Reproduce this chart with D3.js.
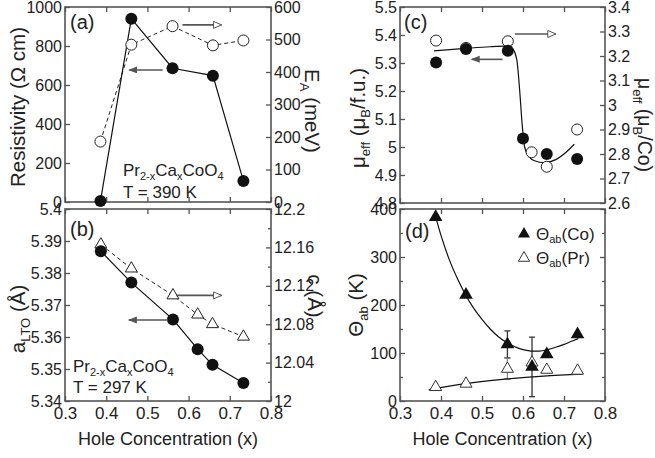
<!DOCTYPE html>
<html>
<head>
<meta charset="utf-8">
<script src="https://cdn.jsdelivr.net/npm/d3@7"></script>
<style>
  body { margin: 0; background: #fff; }
  svg text { font-family: "Liberation Sans", Arial, Helvetica, sans-serif; fill: #222; }
</style>
</head>
<body>
<svg id="chart" width="655" height="458"></svg>
<script>
// hole concentration of the samples
const xFive = [0.386, 0.461, 0.561, 0.659, 0.733];
const xSix = [0.387, 0.461, 0.562, 0.622, 0.658, 0.733];

// (a) resistivity at 390 K and activation energy
const resistivity = [5, 940, 686, 648, 108];
const activationEnergy = [186, 484, 541, 482, 497];

// (b) lattice parameters at 297 K
const aLto = [5.3868, 5.377, 5.3655, 5.3562, 5.3513, 5.3456];
const cAxis = [12.163, 12.138, 12.110, 12.090, 12.080, 12.067];

// (c) effective moment
const xMuFu = [0.388, 0.461, 0.563, 0.600, 0.658, 0.732];
const muPerFu = [5.302, 5.35, 5.344, 5.03, 4.975, 4.957];
const xMuCo = [0.388, 0.461, 0.563, 0.621, 0.658, 0.732];
const muPerCo = [3.263, 3.233, 3.26, 2.807, 2.748, 2.90];
const muFitX = [0.383, 0.46, 0.52, 0.56, 0.575, 0.585, 0.592, 0.598, 0.604, 0.615, 0.63, 0.65, 0.68, 0.70, 0.725];
const muFitY = [5.343, 5.352, 5.358, 5.36, 5.35, 5.31, 5.2, 5.08, 5.0, 4.965, 4.95, 4.944, 4.955, 4.975, 5.01];

// (d) Weiss temperatures
const thetaCo = [383, 221, 118, 71, 97, 139];
const thetaPr = [29, 36, 67, 80, 65, 63];
const thetaCoErr = [0, 0, 28, 62, 0, 0];
const thetaPrErr = [0, 0, 22, 0, 0, 0];
const coFitX = [0.385, 0.40, 0.42, 0.44, 0.46, 0.48, 0.50, 0.52, 0.54, 0.56, 0.58, 0.60, 0.62, 0.64, 0.66, 0.68, 0.70, 0.72, 0.735];
const coFitY = [390, 345, 295, 255, 221, 193, 170, 150, 134, 122, 113, 107, 104, 104, 107, 112, 118, 125, 130];
const prFitX = [0.37, 0.45, 0.55, 0.65, 0.745];
const prFitY = [23, 35, 45, 52, 56];

// tick values
const xTickVals = [0.3, 0.4, 0.5, 0.6, 0.7, 0.8];
const resTicks = [0, 200, 400, 600, 800, 1000];
const eaTicks = [0, 100, 200, 300, 400, 500, 600];
const aTicks = [5.34, 5.35, 5.36, 5.37, 5.38, 5.39, 5.4];
const cTicks = [12, 12.04, 12.08, 12.12, 12.16, 12.2];
const cMinor = [12.02, 12.06, 12.1, 12.14, 12.18];
const muFuTicks = [4.8, 4.9, 5, 5.1, 5.2, 5.3, 5.4, 5.5];
const muCoTicks = [2.6, 2.7, 2.8, 2.9, 3, 3.1, 3.2, 3.3, 3.4];
const thetaTicks = [0, 100, 200, 300, 400];
const thetaMinor = [50, 150, 250, 350];

const svg = d3.select("#chart");
const axisColor = "#555";
const fmt = d3.format("~g");

// arrow heads
const defs = svg.append("defs");
defs.append("marker").attr("id", "headFilled")
  .attr("markerUnits", "userSpaceOnUse").attr("markerWidth", 10).attr("markerHeight", 8)
  .attr("refX", 8).attr("refY", 3.5).attr("orient", "auto")
  .append("path").attr("d", "M0,0 L9,3.5 L0,7 Z").attr("fill", axisColor);
defs.append("marker").attr("id", "headOpen")
  .attr("markerUnits", "userSpaceOnUse").attr("markerWidth", 12).attr("markerHeight", 10)
  .attr("refX", 9).attr("refY", 4.5).attr("orient", "auto")
  .append("path").attr("d", "M1,1 L9,4.5 L1,8 Z").attr("fill", "#fff")
  .attr("stroke", axisColor).attr("stroke-width", 1);

/*
 * Appends tspans to a text, parts marked "sub" are lowered and smaller
 */
const addRich = (sel, parts, subSize, shift) => {
  let low = false;
  parts.forEach((p) => {
    const t = sel.append("tspan").text(p[0]);
    if (p[1] === "sub") {
      t.attr("font-size", subSize);
      if (!low) t.attr("dy", shift);
      low = true;
    } else {
      if (low) t.attr("dy", -shift);
      low = false;
    }
  });
  return sel;
};

const styleAxis = (g, size) => {
  g.attr("font-size", null).attr("font-family", null);
  g.select(".domain").remove();
  g.selectAll(".tick line").attr("stroke", axisColor).attr("stroke-width", 1.3);
  g.selectAll(".tick text").attr("font-size", size).attr("fill", "#222");
};

/*
 * Builds one panel: scales, frame and ticks
 */
const panel = (box, leftDom, rightDom, cfg) => {
  const x = d3.scaleLinear().domain([0.3, 0.8]).range([box.x0, box.x1]);
  const yL = d3.scaleLinear().domain(leftDom).range([box.y1, box.y0]);
  const yR = d3.scaleLinear().domain(rightDom).range([box.y1, box.y0]);
  const g = svg.append("g");

  g.append("g").attr("transform", "translate(0," + box.y1 + ")")
    .call(d3.axisBottom(x).tickValues(xTickVals).tickSize(-5).tickPadding(6)
      .tickFormat(cfg.xLabels ? d3.format(".1f") : ""))
    .call((s) => styleAxis(s, 17));
  g.append("g").attr("transform", "translate(0," + box.y0 + ")")
    .call(d3.axisTop(x).tickValues(xTickVals).tickSize(-5).tickFormat(""))
    .call((s) => styleAxis(s, 16));
  g.append("g").attr("transform", "translate(" + box.x0 + ",0)")
    .call(d3.axisLeft(yL).tickValues(cfg.leftTicks).tickSize(-5).tickPadding(3).tickFormat(fmt))
    .call((s) => styleAxis(s, 16));
  g.append("g").attr("transform", "translate(" + box.x1 + ",0)")
    .call(d3.axisRight(yR).tickValues(cfg.rightTicks).tickSize(-5).tickPadding(3)
      .tickFormat(cfg.rightLabels === false ? "" : fmt))
    .call((s) => styleAxis(s, 16));

  if (cfg.leftMinor) {
    g.append("g").attr("transform", "translate(" + box.x0 + ",0)")
      .call(d3.axisLeft(yL).tickValues(cfg.leftMinor).tickSize(-3).tickFormat(""))
      .call((s) => styleAxis(s, 16));
  }
  if (cfg.rightMinor) {
    g.append("g").attr("transform", "translate(" + box.x1 + ",0)")
      .call(d3.axisRight(yR).tickValues(cfg.rightMinor).tickSize(-3).tickFormat(""))
      .call((s) => styleAxis(s, 16));
  }

  g.append("rect")
    .attr("x", box.x0).attr("y", box.y0)
    .attr("width", box.x1 - box.x0).attr("height", box.y1 - box.y0)
    .attr("fill", "none").attr("stroke", axisColor).attr("stroke-width", 1.6);

  return { g, x, yL, yR };
};

const arrow = (p, xs, y, head) => {
  p.g.append("line")
    .attr("x1", p.x(xs[0])).attr("x2", p.x(xs[1]))
    .attr("y1", y).attr("y2", y)
    .attr("stroke", axisColor).attr("stroke-width", 1.6)
    .attr("marker-end", "url(#" + head + ")");
};

const label = (p, txt, x, y) => {
  p.g.append("text").attr("x", x).attr("y", y).attr("font-size", 20).text(txt);
};

const note = (p, x, y1, y2, temp) => {
  addRich(p.g.append("text").attr("x", x).attr("y", y1).attr("font-size", 17),
    [["Pr"], ["2-x", "sub"], ["Ca"], ["x", "sub"], ["CoO"], ["4", "sub"]], 11, 4);
  p.g.append("text").attr("x", x).attr("y", y2).attr("font-size", 17).text("T = " + temp + " K");
};

const yTitle = (x, y, angle, parts, size) => {
  const t = svg.append("text")
    .attr("transform", "translate(" + x + "," + y + ") rotate(" + angle + ")")
    .attr("text-anchor", "middle").attr("font-size", size || 20.5);
  addRich(t, parts, 13, 5);
};

const xTitle = (x) => {
  svg.append("text").attr("x", x).attr("y", 445).attr("text-anchor", "middle")
    .attr("font-size", 18).text("Hole Concentration (x)");
};

const lineGen = (p, xs, ys, yScale, curve) =>
  d3.line().x((d) => p.x(xs[d])).y((d) => yScale(ys[d])).curve(curve || d3.curveLinear)(d3.range(xs.length));

// ---------- (a)
const pa = panel({ x0: 65, x1: 271, y0: 7, y1: 202 }, [0, 1000], [0, 600],
  { leftTicks: resTicks, rightTicks: eaTicks, xLabels: false });

pa.g.append("path").attr("d", lineGen(pa, xFive, activationEnergy, pa.yR))
  .attr("fill", "none").attr("stroke", "#222").attr("stroke-width", 1).attr("stroke-dasharray", "4,3");
pa.g.append("path").attr("d", lineGen(pa, xFive, resistivity, pa.yL))
  .attr("fill", "none").attr("stroke", "#111").attr("stroke-width", 1.2);
pa.g.selectAll(".ea").data(d3.range(xFive.length)).enter().append("circle")
  .attr("cx", (i) => pa.x(xFive[i])).attr("cy", (i) => pa.yR(activationEnergy[i])).attr("r", 5.5)
  .attr("fill", "#fff").attr("stroke", "#222").attr("stroke-width", 1);
pa.g.selectAll(".res").data(d3.range(xFive.length)).enter().append("circle")
  .attr("cx", (i) => pa.x(xFive[i])).attr("cy", (i) => pa.yL(resistivity[i])).attr("r", 6)
  .attr("fill", "#111");
arrow(pa, [0.585, 0.68], pa.yR(545), "headOpen");
arrow(pa, [0.537, 0.456], pa.yL(677), "headFilled");
label(pa, "(a)", 70, 29);
note(pa, 123, 176, 198, 390);

// ---------- (b)
const pb = panel({ x0: 65, x1: 271, y0: 209, y1: 401 }, [5.34, 5.4], [12, 12.2],
  { leftTicks: aTicks, rightTicks: cTicks, rightMinor: cMinor, xLabels: true });

pb.g.append("path").attr("d", lineGen(pb, xSix, cAxis, pb.yR))
  .attr("fill", "none").attr("stroke", "#222").attr("stroke-width", 1).attr("stroke-dasharray", "4,3");
pb.g.append("path").attr("d", lineGen(pb, xSix, aLto, pb.yL))
  .attr("fill", "none").attr("stroke", "#111").attr("stroke-width", 1.2);
pb.g.selectAll(".c").data(d3.range(xSix.length)).enter().append("path")
  .attr("d", d3.symbol(d3.symbolTriangle, 62))
  .attr("transform", (i) => "translate(" + pb.x(xSix[i]) + "," + pb.yR(cAxis[i]) + ")")
  .attr("fill", "#fff").attr("stroke", "#222").attr("stroke-width", 1);
pb.g.selectAll(".a").data(d3.range(xSix.length)).enter().append("circle")
  .attr("cx", (i) => pb.x(xSix[i])).attr("cy", (i) => pb.yL(aLto[i])).attr("r", 6)
  .attr("fill", "#111");
arrow(pb, [0.57, 0.68], pb.yR(12.11), "headOpen");
arrow(pb, [0.55, 0.455], pb.yL(5.3653), "headFilled");
label(pb, "(b)", 70, 236);
note(pb, 73, 372, 393, 297);

// ---------- (c)
const pc = panel({ x0: 400, x1: 605, y0: 7, y1: 203 }, [4.8, 5.5], [2.6, 3.4],
  { leftTicks: muFuTicks, rightTicks: muCoTicks, xLabels: false });

pc.g.append("path").attr("d", lineGen(pc, muFitX, muFitY, pc.yL, d3.curveMonotoneX))
  .attr("fill", "none").attr("stroke", "#111").attr("stroke-width", 1.2);
pc.g.selectAll(".co").data(d3.range(xMuCo.length)).enter().append("circle")
  .attr("cx", (i) => pc.x(xMuCo[i])).attr("cy", (i) => pc.yR(muPerCo[i])).attr("r", 5.5)
  .attr("fill", "#fff").attr("stroke", "#222").attr("stroke-width", 1);
pc.g.selectAll(".fu").data(d3.range(xMuFu.length)).enter().append("circle")
  .attr("cx", (i) => pc.x(xMuFu[i])).attr("cy", (i) => pc.yL(muPerFu[i])).attr("r", 6)
  .attr("fill", "#111");
arrow(pc, [0.58, 0.68], pc.yR(3.29), "headOpen");
arrow(pc, [0.55, 0.475], pc.yL(5.313), "headFilled");
label(pc, "(c)", 404, 29);

// ---------- (d)
const pd = panel({ x0: 400, x1: 605, y0: 209, y1: 401 }, [0, 400], [0, 400],
  { leftTicks: thetaTicks, rightTicks: thetaTicks, rightLabels: false,
    leftMinor: thetaMinor, rightMinor: thetaMinor, xLabels: true });

// error bars
const errBars = (vals, errs, color) => {
  d3.range(xSix.length).filter((i) => errs[i] > 0).forEach((i) => {
    const cx = pd.x(xSix[i]);
    const top = pd.yL(vals[i] + errs[i]);
    const bot = pd.yL(vals[i] - errs[i]);
    pd.g.append("line").attr("x1", cx).attr("x2", cx).attr("y1", top).attr("y2", bot)
      .attr("stroke", color).attr("stroke-width", 1.3);
    [top, bot].forEach((yy) => {
      pd.g.append("line").attr("x1", cx - 3).attr("x2", cx + 3).attr("y1", yy).attr("y2", yy)
        .attr("stroke", color).attr("stroke-width", 1.3);
    });
  });
};
errBars(thetaCo, thetaCoErr, "#333");
errBars(thetaPr, thetaPrErr, "#888");

pd.g.append("path").attr("d", lineGen(pd, coFitX, coFitY, pd.yL, d3.curveMonotoneX))
  .attr("fill", "none").attr("stroke", "#111").attr("stroke-width", 1.2);
pd.g.append("path").attr("d", lineGen(pd, prFitX, prFitY, pd.yL, d3.curveMonotoneX))
  .attr("fill", "none").attr("stroke", "#111").attr("stroke-width", 1.2);

pd.g.selectAll(".pr").data(d3.range(xSix.length)).enter().append("path")
  .attr("d", d3.symbol(d3.symbolTriangle, 62))
  .attr("transform", (i) => "translate(" + pd.x(xSix[i]) + "," + pd.yL(thetaPr[i]) + ")")
  .attr("fill", "#fff").attr("stroke", "#333").attr("stroke-width", 1);
pd.g.selectAll(".tco").data(d3.range(xSix.length)).enter().append("path")
  .attr("d", d3.symbol(d3.symbolTriangle, 80))
  .attr("transform", (i) => "translate(" + pd.x(xSix[i]) + "," + pd.yL(thetaCo[i]) + ")")
  .attr("fill", "#111");
label(pd, "(d)", 405, 238);

// legend
pd.g.append("path").attr("d", d3.symbol(d3.symbolTriangle, 62))
  .attr("transform", "translate(524,234)").attr("fill", "#111");
pd.g.append("path").attr("d", d3.symbol(d3.symbolTriangle, 55))
  .attr("transform", "translate(524,258)").attr("fill", "#fff").attr("stroke", "#333");
addRich(pd.g.append("text").attr("x", 536).attr("y", 240).attr("font-size", 17),
  [["Θ"], ["ab", "sub"], ["(Co)"]], 11, 3);
addRich(pd.g.append("text").attr("x", 536).attr("y", 264).attr("font-size", 17),
  [["Θ"], ["ab", "sub"], ["(Pr)"]], 11, 3);

// axis titles
yTitle(25, 107, -90, [["Resistivity (Ω cm)"]]);
yTitle(305, 111, 90, [["E"], ["A", "sub"], [" (meV)"]]);
yTitle(25, 319, -90, [["a"], ["LTO", "sub"], [" (Å)"]]);
yTitle(308, 296, 90, [["c (Å)"]]);
yTitle(365, 118, -90, [["μ"], ["eff", "sub"], [" (μ"], ["B", "sub"], ["/f.u.)"]]);
yTitle(638, 125, 90, [["μ"], ["eff", "sub"], [" (μ"], ["B", "sub"], ["/Co)"]], 19.5);
yTitle(363, 305, -90, [["Θ"], ["ab", "sub"], [" (K)"]]);
xTitle(168);
xTitle(502.5);
</script>
</body>
</html>
